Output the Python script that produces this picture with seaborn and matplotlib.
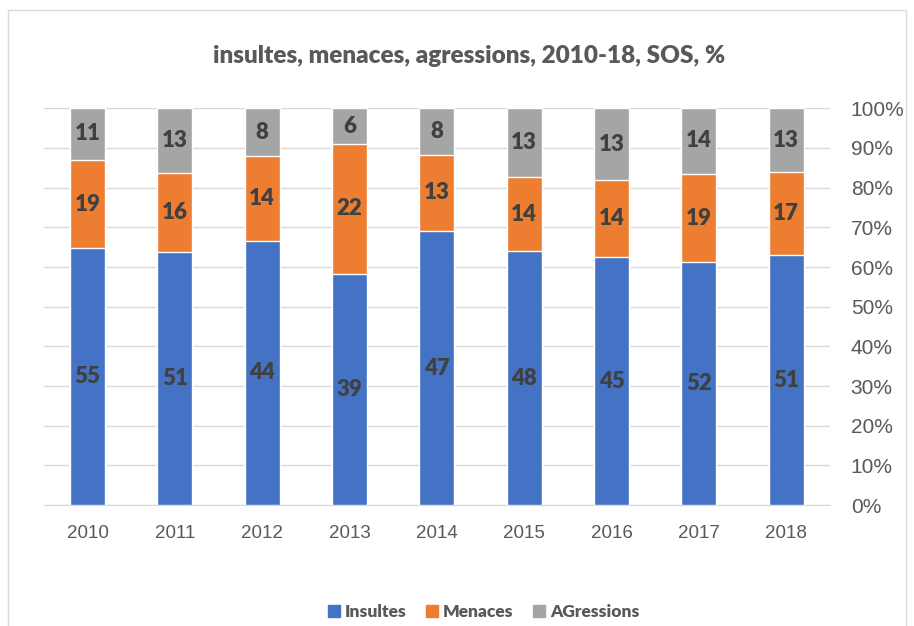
import numpy as np
import pandas as pd
import matplotlib
matplotlib.use("Agg")
import matplotlib.pyplot as plt
import seaborn as sns
from matplotlib.patches import Rectangle, Patch
from matplotlib.ticker import PercentFormatter

# ── Data ─────────────────────────────────────────────────────────────────────
years = ["2010", "2011", "2012", "2013", "2014", "2015", "2016", "2017", "2018"]
insultes = [55, 51, 44, 39, 47, 48, 45, 52, 51]
menaces = [19, 16, 14, 22, 13, 14, 14, 19, 17]
agressions = [11, 13, 8, 6, 8, 13, 13, 14, 13]
series_names = ["Insultes", "Menaces", "AGressions"]
colors = ["#4472C4", "#ED7D31", "#A5A5A5"]

df = pd.DataFrame({"year": years, "Insultes": insultes,
                   "Menaces": menaces, "AGressions": agressions})
total = df[series_names].sum(axis=1)
share = df[series_names].div(total, axis=0) * 100
cum = share.cumsum(axis=1)
cum["year"] = df["year"]

# ── Figure ───────────────────────────────────────────────────────────────────
sns.set_style("white")
plt.rcParams["font.family"] = ["Lato", "DejaVu Sans"]
text_col = "#595959"

fig = plt.figure(figsize=(9.14, 6.26), dpi=100)
ax = fig.add_axes([0.048, 0.193, 0.860, 0.634])

# stacked: draw cumulative tops from the highest down
for name, col in zip(reversed(series_names), reversed(colors)):
    sns.barplot(data=cum, x="year", y=name, color=col, width=0.4,
                saturation=1, ax=ax, zorder=3)

# value labels at segment centres
for i in range(len(years)):
    lower = 0
    for name in series_names:
        upper = cum.loc[i, name]
        ax.text(i, (lower + upper) / 2, str(df.loc[i, name]),
                ha="center", va="center", fontsize=16, fontweight="heavy",
                color="#404040", zorder=4)
        lower = upper

ax.set_ylim(0, 100)
ax.set_xlim(-0.5, len(years) - 0.5)
ax.yaxis.tick_right()
ax.set_yticks(np.arange(0, 101, 10))
ax.yaxis.set_major_formatter(PercentFormatter(decimals=0))
ax.grid(axis="y", color="#D9D9D9", linewidth=1, zorder=0)
ax.set_axisbelow(True)
for s in ["top", "left", "right"]:
    ax.spines[s].set_visible(False)
ax.spines["bottom"].set_color("#D9D9D9")
ax.set_xlabel("")
ax.set_ylabel("")
ax.tick_params(axis="both", length=0, colors=text_col)
for lab in ax.get_xticklabels() + ax.get_yticklabels():
    lab.set_family(["Liberation Sans", "DejaVu Sans"])
ax.tick_params(axis="x", pad=14, labelsize=13.5)
ax.tick_params(axis="y", pad=15, labelsize=15)

fig.text(0.513, 0.91, "insultes, menaces, agressions, 2010-18, SOS, %",
         ha="center", va="center", fontsize=17.5, fontweight="heavy",
         color=text_col)

handles = [Patch(facecolor=c, edgecolor=c) for c in colors]
fig.legend(handles, series_names, loc="center", bbox_to_anchor=(0.529, 0.022),
           ncol=3, frameon=False, handlelength=0.7, handleheight=0.7,
           handletextpad=0.3, columnspacing=1.1,
           prop={"size": 12.5, "weight": "heavy"}, labelcolor=text_col)

fig.patches.append(Rectangle((0.009, -0.02), 0.982, 1.004,
                             transform=fig.transFigure, fill=False,
                             edgecolor="#D9D9D9", linewidth=1))

fig.savefig("out.png", dpi=100)
